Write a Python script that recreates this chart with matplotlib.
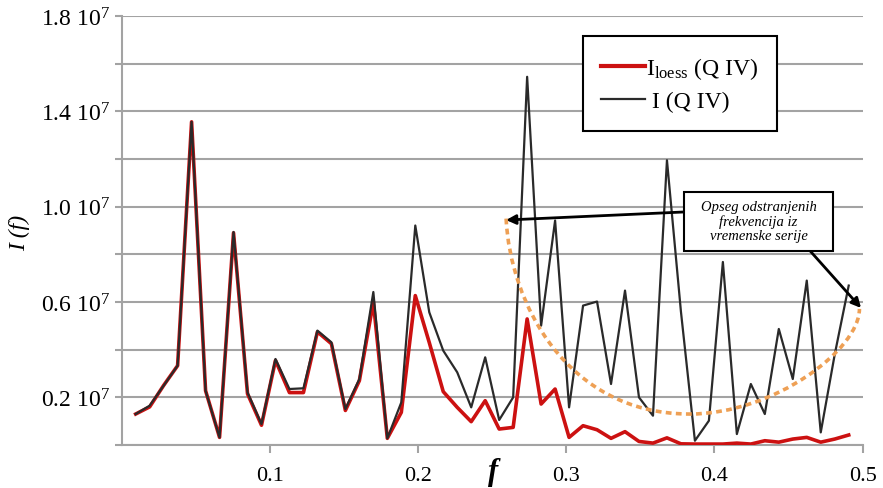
import numpy as np
import matplotlib
matplotlib.use("Agg")
import matplotlib.pyplot as plt
from matplotlib.path import Path
from matplotlib.patches import PathPatch, Rectangle

plt.rcParams['font.family'] = 'Liberation Serif'
plt.rcParams['mathtext.fontset'] = 'custom'
plt.rcParams['mathtext.rm'] = 'Liberation Serif'

# Fourier frequencies k/106, k = 1..52
k = np.arange(1, 53)
freq = k / 106

# periodogram, in units of 10^7
i_raw = [0.130, 0.165, 0.249, 0.333, 1.356, 0.228, 0.032, 0.894, 0.221, 0.088,
         0.361, 0.235, 0.238, 0.480, 0.431, 0.151, 0.277, 0.642, 0.028, 0.179,
         0.921, 0.557, 0.396, 0.305, 0.158, 0.368, 0.105, 0.200, 1.545, 0.501,
         0.942, 0.158, 0.585, 0.602, 0.256, 0.648, 0.200, 0.123, 1.195, 0.560,
         0.018, 0.102, 0.768, 0.046, 0.256, 0.130, 0.487, 0.277, 0.690, 0.053,
         0.380, 0.669]
i_loess = [0.130, 0.160, 0.250, 0.333, 1.356, 0.228, 0.032, 0.890, 0.215, 0.083,
           0.355, 0.220, 0.220, 0.475, 0.425, 0.145, 0.270, 0.600, 0.028, 0.137,
           0.627, 0.430, 0.224, 0.158, 0.098, 0.186, 0.067, 0.074, 0.529, 0.172,
           0.235, 0.032, 0.081, 0.064, 0.028, 0.056, 0.015, 0.008, 0.030, 0.005,
           0.004, 0.004, 0.004, 0.008, 0.004, 0.018, 0.012, 0.025, 0.032, 0.012,
           0.025, 0.042]

ytick_vals = [0, 0.2, 0.4, 0.6, 0.8, 1.0, 1.2, 1.4, 1.6, 1.8]
ytick_labels = ['', r'0.2 10$\mathregular{^{7}}$', '', r'0.6 10$\mathregular{^{7}}$', '',
                r'1.0 10$\mathregular{^{7}}$', '', r'1.4 10$\mathregular{^{7}}$', '',
                r'1.8 10$\mathregular{^{7}}$']
xtick_vals = [0.1, 0.2, 0.3, 0.4, 0.5]
xtick_labels = ['0.1', '0.2', '0.3', '0.4', '0.5']

grey = '#a3a3a3'

fig = plt.figure(figsize=(8.83, 4.89), dpi=100)
ax = fig.add_axes([0.1378, 0.0879, 0.8392, 0.8773])

ax.plot(freq, i_loess, color='#cc1111', lw=2.6, label=r'I$\mathregular{_{loess}}$ (Q IV)', zorder=3)
ax.plot(freq, i_raw, color='#2a2a2a', lw=1.6, label=' I (Q IV)', zorder=3)

ax.set_xlim(0, 0.5)
ax.set_ylim(0, 1.8)
ax.set_yticks(ytick_vals)
ax.set_yticklabels(ytick_labels, fontsize=17)
ax.set_xticks(xtick_vals)
ax.set_xticklabels(xtick_labels, fontsize=16)
ax.yaxis.grid(True, color=grey, lw=1.5)
ax.set_axisbelow(True)

for s in ['top', 'right']:
    ax.spines[s].set_visible(False)
for s in ['left', 'bottom']:
    ax.spines[s].set_color(grey)
    ax.spines[s].set_linewidth(1.5)
ax.tick_params(axis='y', color=grey, width=1.5, length=5, pad=3)
ax.tick_params(axis='x', color=grey, width=1.5, length=6, pad=9)

ax.set_ylabel('I (f)', style='italic', fontsize=17)
ax.yaxis.set_label_coords(-0.124, 0.497)
ax.set_xlabel('f', style='italic', weight='bold', fontsize=22)
ax.xaxis.set_label_coords(0.501, -0.028)

leg = ax.legend(loc='upper left', bbox_to_anchor=(0.622, 0.953), fontsize=17,
                frameon=True, fancybox=False, edgecolor='black', framealpha=1,
                handlelength=1.85, handletextpad=0.05, borderpad=0.8,
                labelspacing=0.4, borderaxespad=0)
leg.get_frame().set_linewidth(1.5)
leg.legend_handles[0].set_linewidth(3)

# dotted orange arc marking the removed frequency range
verts = [(0.2594, 0.95), (0.262, 0.6), (0.30, 0.13), (0.3832, 0.13),
         (0.44, 0.13), (0.4978, 0.4), (0.4978, 0.571)]
codes = [Path.MOVETO] + [Path.CURVE4] * 6
ax.add_patch(PathPatch(Path(verts, codes), fill=False, edgecolor='#eea055', lw=2.6,
                       linestyle=(0, (1.6, 1.2)), clip_on=False, zorder=4))

# callout box + arrows
arrow = dict(arrowstyle='-|>', color='black', lw=2, mutation_scale=14, shrinkA=0, shrinkB=0)
ax.annotate('', xy=(0.2594, 0.944), xytext=(0.3801, 0.978), arrowprops=arrow, zorder=5)
ax.annotate('', xy=(0.4989, 0.575), xytext=(0.4644, 0.8153), arrowprops=arrow, zorder=5,
            annotation_clip=False)
ax.add_patch(Rectangle((0.3794, 0.8153), 0.1008, 0.2477, facecolor='white',
                       edgecolor='black', lw=1.5, zorder=6))
ax.text(0.4298, 0.94, 'Opseg odstranjenih\nfrekvencija iz\nvremenske serije',
        ha='center', va='center', style='italic', fontsize=10.5, linespacing=1.15, zorder=7)

fig.savefig('out.png', dpi=100)
